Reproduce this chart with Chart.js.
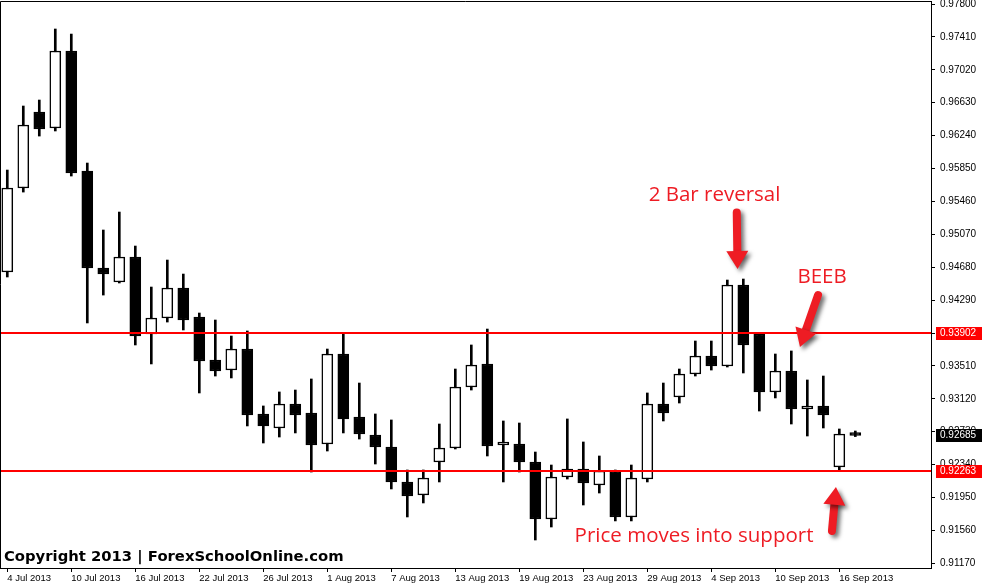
<!DOCTYPE html>
<html>
<head>
<meta charset="utf-8">
<script src="https://cdn.jsdelivr.net/npm/chart.js"></script>
<style>
  html, body { margin: 0; padding: 0; background: #fff; }
  #wrap { width: 983px; height: 588px; position: relative; }
</style>
</head>
<body>
<div id="wrap"><canvas id="chart"></canvas></div>
<script>
// daily candles, USDCHF-ish, 4 Jul - 17 Sep 2013
const dates = [
  '4 Jul 2013', '5 Jul 2013', '8 Jul 2013', '9 Jul 2013', '10 Jul 2013', '11 Jul 2013', '12 Jul 2013',
  '15 Jul 2013', '16 Jul 2013', '17 Jul 2013', '18 Jul 2013', '19 Jul 2013', '22 Jul 2013', '23 Jul 2013',
  '24 Jul 2013', '25 Jul 2013', '26 Jul 2013', '29 Jul 2013', '30 Jul 2013', '31 Jul 2013', '1 Aug 2013',
  '2 Aug 2013', '5 Aug 2013', '6 Aug 2013', '7 Aug 2013', '8 Aug 2013', '9 Aug 2013', '12 Aug 2013',
  '13 Aug 2013', '14 Aug 2013', '15 Aug 2013', '16 Aug 2013', '19 Aug 2013', '20 Aug 2013', '21 Aug 2013',
  '22 Aug 2013', '23 Aug 2013', '26 Aug 2013', '27 Aug 2013', '28 Aug 2013', '29 Aug 2013', '30 Aug 2013',
  '2 Sep 2013', '3 Sep 2013', '4 Sep 2013', '5 Sep 2013', '6 Sep 2013', '9 Sep 2013', '10 Sep 2013',
  '11 Sep 2013', '12 Sep 2013', '13 Sep 2013', '16 Sep 2013', '17 Sep 2013'
];
const opens = [
  0.94623, 0.95619, 0.96520, 0.96330, 0.97243, 0.95820, 0.94671, 0.94505, 0.94801, 0.93888,
  0.94078, 0.94433, 0.94090, 0.93580, 0.93461, 0.93710, 0.92940, 0.92774, 0.93058, 0.92952,
  0.92584, 0.93651, 0.92904, 0.92691, 0.92549, 0.92134, 0.91980, 0.92371, 0.92537, 0.93260,
  0.93533, 0.92572, 0.92584, 0.92371, 0.91695, 0.92193, 0.92288, 0.92098, 0.92264, 0.91719,
  0.92169, 0.93058, 0.93141, 0.93414, 0.93627, 0.93509, 0.94469, 0.93888, 0.93201, 0.93450,
  0.92999, 0.93035, 0.92312, 0.92718
];
const highs = [
  0.95832, 0.96591, 0.96662, 0.97504, 0.97444, 0.95915, 0.95121, 0.95334, 0.94931, 0.94445,
  0.94765, 0.94599, 0.94137, 0.94054, 0.93864, 0.93924, 0.93035, 0.93201, 0.93224, 0.93355,
  0.93710, 0.93888, 0.93307, 0.92940, 0.92869, 0.92276, 0.92276, 0.92821, 0.93473, 0.93758,
  0.93947, 0.92857, 0.92833, 0.92489, 0.92335, 0.92881, 0.92608, 0.92442, 0.92276, 0.92335,
  0.93189, 0.93307, 0.93473, 0.93805, 0.93805, 0.94528, 0.94540, 0.93900, 0.93651, 0.93687,
  0.93343, 0.93390, 0.92762, 0.92738
];
const lows = [
  0.94564, 0.95571, 0.96235, 0.96295, 0.95761, 0.94019, 0.94350, 0.94493, 0.93758, 0.93533,
  0.94030, 0.93936, 0.93189, 0.93390, 0.93367, 0.92798, 0.92596, 0.92667, 0.92715, 0.92252,
  0.92501, 0.92715, 0.92643, 0.92347, 0.92051, 0.91719, 0.91885, 0.92134, 0.92525, 0.93224,
  0.92442, 0.92134, 0.92252, 0.91446, 0.91600, 0.92169, 0.91861, 0.92003, 0.91672, 0.91672,
  0.92134, 0.92857, 0.93070, 0.93390, 0.93461, 0.93497, 0.93426, 0.92975, 0.93130, 0.92821,
  0.92679, 0.92774, 0.92264, 0.92672
];
const closes = [
  0.95619, 0.96366, 0.96318, 0.97243, 0.95797, 0.94671, 0.94599, 0.94801, 0.93864, 0.94078,
  0.94433, 0.94054, 0.93568, 0.93450, 0.93710, 0.92928, 0.92798, 0.93058, 0.92928, 0.92572,
  0.93651, 0.92881, 0.92703, 0.92549, 0.92134, 0.91968, 0.92181, 0.92537, 0.93260, 0.93521,
  0.92560, 0.92608, 0.92371, 0.91695, 0.92193, 0.92288, 0.92122, 0.92264, 0.91719, 0.92181,
  0.93058, 0.92952, 0.93414, 0.93627, 0.93509, 0.94469, 0.93758, 0.93201, 0.93450, 0.92999,
  0.93035, 0.92928, 0.92703, 0.92685
];
const priceTicks = [
  0.97800, 0.97410, 0.97020, 0.96630, 0.96240, 0.95850, 0.95460, 0.95070, 0.94680,
  0.94290, 0.93900, 0.93510, 0.93120, 0.92730, 0.92340, 0.91950, 0.91560, 0.91170
];
const dateTickStep = 4;
const resistance = 0.93902;
const support = 0.92263;
const lastPrice = 0.92685;

// notes placed in data space: [candle index, price]
const notes = [
  { text: '2 Bar reversal', at: [44.2, 0.95536] },
  { text: 'BEEB', at: [50.92, 0.94564] },
  { text: 'Price moves into support', at: [42.92, 0.91494] }
];
const arrows = [
  { from: [45.59, 0.95330], to: [45.64, 0.94659] },
  { from: [50.67, 0.94350], to: [49.54, 0.93734] },
  { from: [51.54, 0.91553], to: [51.79, 0.92075] }
];

const xTickFont = { family: 'Liberation Sans', size: 9.5 };
const yTickFont = { family: 'Liberation Sans', size: 10 };
const noteRed = '#ee1c24';

function drawArrow(ctx, x1, y1, x2, y2) {
  const ang = Math.atan2(y2 - y1, x2 - x1);
  const headLen = 18, headW = 11;
  const bx = x2 - headLen * Math.cos(ang), by = y2 - headLen * Math.sin(ang);
  ctx.save();
  ctx.shadowColor = 'rgba(0,0,0,0.55)';
  ctx.shadowBlur = 4;
  ctx.shadowOffsetX = 3;
  ctx.shadowOffsetY = 3;
  ctx.strokeStyle = noteRed;
  ctx.fillStyle = noteRed;
  ctx.lineWidth = 8;
  ctx.lineCap = 'round';
  ctx.beginPath();
  ctx.moveTo(x1, y1);
  ctx.lineTo(bx + 2 * Math.cos(ang), by + 2 * Math.sin(ang));
  ctx.stroke();
  ctx.beginPath();
  ctx.moveTo(x2, y2);
  ctx.lineTo(bx + headW * Math.sin(ang), by - headW * Math.cos(ang));
  ctx.lineTo(bx - headW * Math.sin(ang), by + headW * Math.cos(ang));
  ctx.closePath();
  ctx.fill();
  ctx.restore();
}

const overlay = {
  id: 'overlay',
  afterDatasetsDraw(chart) {
    const { ctx, chartArea, scales: { y } } = chart;
    ctx.save();
    ctx.strokeStyle = '#ff0000';
    ctx.lineWidth = 2;
    [resistance, support].forEach(level => {
      const py = Math.round(y.getPixelForValue(level));
      ctx.beginPath();
      ctx.moveTo(chartArea.left, py);
      ctx.lineTo(chartArea.right, py);
      ctx.stroke();
    });
    ctx.restore();
  },
  afterDraw(chart) {
    const { ctx, chartArea, scales: { x, y } } = chart;
    ctx.save();
    // top + left frame
    ctx.strokeStyle = '#000';
    ctx.lineWidth = 1;
    ctx.beginPath();
    ctx.moveTo(chartArea.left + 0.5, chartArea.bottom);
    ctx.lineTo(chartArea.left + 0.5, chartArea.top + 0.5);
    ctx.lineTo(chartArea.right, chartArea.top + 0.5);
    ctx.stroke();

    // price tags on the right axis
    const tags = [
      { value: resistance, bg: '#ff0000' },
      { value: support, bg: '#ff0000' },
      { value: lastPrice, bg: '#000000' }
    ];
    ctx.font = yTickFont.size + 'px "' + yTickFont.family + '"';
    ctx.textBaseline = 'middle';
    ctx.textAlign = 'left';
    tags.forEach(t => {
      const py = Math.round(y.getPixelForValue(t.value));
      ctx.fillStyle = t.bg;
      ctx.fillRect(y.left + 5, py - 6, y.right - y.left - 6, 13);
      ctx.fillStyle = '#fff';
      ctx.fillText(t.value.toFixed(5), y.left + 9, py + 0.5);
    });

    // notes
    ctx.font = '20.5px "Open Sans"';
    ctx.textAlign = 'center';
    ctx.fillStyle = noteRed;
    notes.forEach(n => {
      ctx.fillText(n.text, x.getPixelForValue(n.at[0]), y.getPixelForValue(n.at[1]));
    });
    arrows.forEach(a => {
      drawArrow(ctx,
        x.getPixelForValue(a.from[0]), y.getPixelForValue(a.from[1]),
        x.getPixelForValue(a.to[0]), y.getPixelForValue(a.to[1]));
    });

    // watermark
    ctx.font = 'bold 14.8px "DejaVu Sans"';
    ctx.textAlign = 'left';
    ctx.textBaseline = 'alphabetic';
    ctx.fillStyle = '#000';
    ctx.fillText('Copyright 2013 | ForexSchoolOnline.com', 4, 561);
    ctx.restore();
  }
};

const wickData = dates.map((d, i) => ({ x: i, y: [lows[i], highs[i]] }));
const bodyData = dates.map((d, i) => ({ x: i, y: [opens[i], closes[i]] }));
const bodyColors = dates.map((d, i) => (closes[i] >= opens[i] ? '#ffffff' : '#000000'));

new Chart(document.getElementById('chart'), {
  type: 'bar',
  data: {
    datasets: [
      {
        label: 'wicks',
        data: wickData,
        backgroundColor: '#000',
        borderWidth: 0,
        barThickness: 2,
        grouped: false,
        order: 2
      },
      {
        label: 'bodies',
        data: bodyData,
        backgroundColor: bodyColors,
        borderColor: '#000',
        borderWidth: 1.5,
        borderSkipped: false,
        barThickness: 11,
        minBarLength: 3,
        grouped: false,
        order: 1
      }
    ]
  },
  options: {
    responsive: true,
    maintainAspectRatio: false,
    animation: false,
    events: [],
    layout: { padding: { top: 1, left: 0, right: 0, bottom: 0 } },
    plugins: { legend: { display: false }, tooltip: { enabled: false } },
    scales: {
      x: {
        type: 'linear',
        min: -0.456,
        max: 57.73,
        offset: false,
        grid: { offset: false, drawOnChartArea: false, drawTicks: true, tickLength: 4, color: '#000' },
        border: { display: true, color: '#000', width: 1 },
        afterBuildTicks: axis => {
          axis.ticks = dates.map((d, i) => i).filter(i => i % dateTickStep === 0).map(v => ({ value: v }));
        },
        afterFit: axis => {
          axis.height = 20;
          axis.paddingLeft = 0;
          axis.paddingRight = 0;
        },
        ticks: {
          autoSkip: false,
          maxRotation: 0,
          align: 'start',
          padding: 1,
          color: '#000',
          font: xTickFont,
          callback: v => dates[v] || ''
        }
      },
      y: {
        type: 'linear',
        position: 'right',
        min: 0.91114,
        max: 0.97836,
        grid: { drawOnChartArea: false, drawTicks: true, tickLength: 4, color: '#000' },
        border: { display: true, color: '#000', width: 1 },
        afterBuildTicks: axis => {
          axis.ticks = priceTicks.map(v => ({ value: v }));
        },
        afterFit: axis => {
          axis.width = 52;
          axis.paddingTop = 0;
          axis.paddingBottom = 0;
        },
        ticks: {
          padding: 5,
          color: '#000',
          font: yTickFont,
          callback: v => Number(v).toFixed(5)
        }
      }
    }
  },
  plugins: [overlay]
});
</script>
</body>
</html>
